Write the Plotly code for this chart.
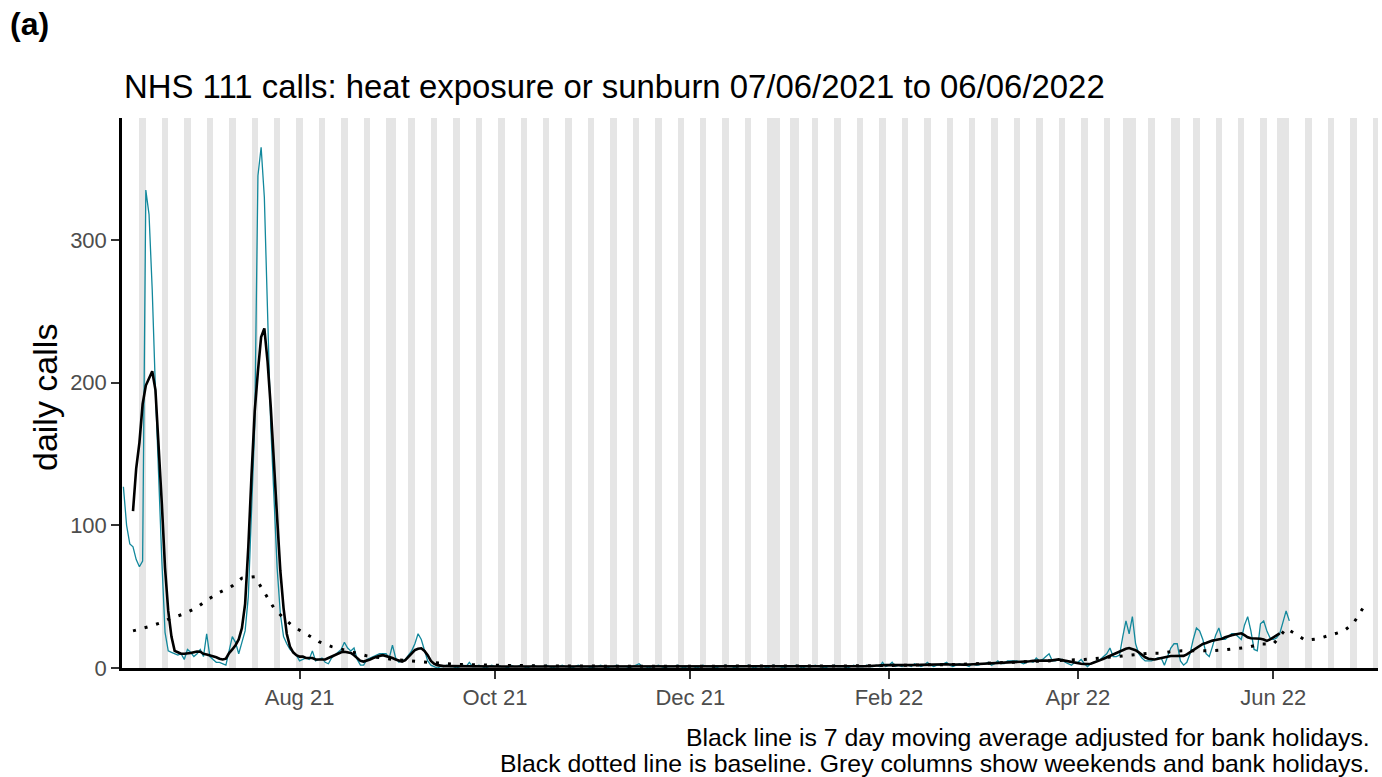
import pandas as pd
import plotly.graph_objects as go

# ---------------------------------------------------------------------------
# Daily NHS 111 calls for heat exposure or sunburn (one value per day)
# ---------------------------------------------------------------------------
CALLS_START = "2021-06-07"

calls_2021_06 = [127, 100, 87, 85, 76, 71, 75,
                 335, 318, 265, 195, 130, 75, 25,
                 12, 11, 10, 9, 10, 6, 13,
                 11, 8, 10]
calls_2021_07 = [13, 8, 24, 8,
                 6, 4, 4, 3, 2, 12, 22,
                 18, 10, 18, 26, 50, 110, 170,
                 345, 365, 330, 240, 170, 120, 70,
                 38, 22, 17, 13, 11, 9]
calls_2021_08 = [5,
                 6, 7, 6, 12, 5, 6, 7,
                 4, 3, 7, 9, 11, 13, 18,
                 14, 12, 14, 6, 2, 2, 6,
                 7, 8, 9, 10, 10, 10, 7,
                 16, 7]
calls_2021_09 = [4, 5, 6, 9, 12,
                 17, 24, 20, 13, 5, 2, 1,
                 0, 1,
                 1, 2, 1, 1, 0, 1, 2, 1, 4, 1, 1, 2, 1, 0, 1, 2]
calls_2021_10 = [1, 2, 1, 1, 0, 2, 1, 1, 2, 1, 0, 1, 2, 1, 1, 1,
                 2, 1, 0, 1, 1, 2, 1, 1, 0, 1, 2, 1, 1, 1, 0]
calls_2021_11 = [1, 1, 2, 1, 0, 1, 1, 2, 1, 1, 1, 0, 1, 2, 3,
                 1, 1, 0, 1, 1, 2, 1, 0, 1, 1, 1, 2, 1, 0, 1]
calls_2021_12 = [1, 1, 0, 1, 2, 1, 1, 1, 0, 1, 1, 2, 1, 1, 0, 1,
                 1, 1, 2, 1, 0, 1, 1, 1, 0, 1, 2, 1, 1, 0, 1]
calls_2022_01 = [1, 1, 2, 1, 0, 1, 1, 1, 2, 1, 1, 0, 1, 1, 2, 1,
                 1, 1, 0, 1, 2, 1, 1, 1, 2, 1, 1, 2, 1, 4, 1]
calls_2022_02 = [2, 4, 1, 2, 1, 2, 2, 1, 3, 2, 1, 2, 4, 2,
                 1, 2, 2, 3, 4, 2, 1, 2, 3, 2, 2, 1, 3, 2]
calls_2022_03 = [2, 3, 3, 4, 2, 3, 5, 3, 3, 5, 5, 5, 5, 4, 3, 4,
                 5, 4, 7, 5, 6, 8,
                 10, 5, 5, 6, 6, 4, 3, 2, 4]
calls_2022_04 = [4, 6, 3, 1, 3,
                 4, 5, 6, 8, 10, 14, 8,
                 8, 9, 22, 33, 24, 36, 17,
                 10, 7, 5, 5, 5, 6, 7,
                 7, 2, 8, 14]
calls_2022_05 = [17, 17, 5,
                 2, 4, 10, 20, 28, 26, 20,
                 10, 8, 15, 23, 28, 20, 20,
                 22, 24, 24, 22, 20, 30, 36,
                 26, 13, 12, 31, 33, 26, 21]
calls_2022_06 = [20, 21, 24, 32, 40, 33]

# ---------------------------------------------------------------------------
# 7 day moving average (adjusted for bank holidays), one value per day
# ---------------------------------------------------------------------------
AVG_START = "2021-06-10"

avg_2021_06 = [110, 140, 158, 185, 198, 203, 208, 195, 158, 115, 70,
               40, 22, 12, 11, 10, 10, 10, 10.5, 11, 11.5]
avg_2021_07 = [11.4, 10, 9.5, 9, 8.5, 7.5, 6.5, 6, 6.5, 10.5, 13, 16, 20,
               28, 45, 85, 135, 180, 208, 232, 238, 215, 183, 140, 105,
               68, 42, 24, 15, 11, 9]
avg_2021_08 = [8, 8, 7, 7, 7, 6, 6, 5.6, 6, 7, 8, 9, 10, 11, 11.4, 11,
               10.5, 9, 7, 5, 4.5, 5, 6, 7, 8, 8.5, 9, 8.5, 7.5, 7, 6]
avg_2021_09 = [5, 4.5, 5.5, 8, 10.5, 12.5, 13.5, 13.8, 12, 9, 5, 3, 2, 1.5,
               1.3, 1.3, 1.3, 1.4, 1.4, 1.5, 1.5, 1.6, 1.6, 1.5, 1.4, 1.3,
               1.2, 1.2, 1.1, 1.1]
avg_2021_10 = [1.1, 1.1, 1.0, 1.0, 1.0, 1.1, 1.1, 1.2, 1.2, 1.1, 1.0, 1.0,
               1.0, 1.1, 1.1, 1.1, 1.0, 1.0, 1.0, 1.0, 1.1, 1.1, 1.1, 1.0,
               1.0, 1.0, 1.0, 1.0, 0.9, 0.9, 0.9]
avg_2021_11 = [0.9, 0.9, 1.0, 1.0, 1.0, 1.0, 1.0, 1.0, 1.0, 1.1, 1.1, 1.1,
               1.2, 1.3, 1.3, 1.3, 1.2, 1.1, 1.0, 1.0, 1.0, 1.0, 1.0, 0.9,
               0.9, 0.9, 1.0, 1.0, 1.0, 1.0]
avg_2021_12 = [1.0, 1.0, 1.0, 1.0, 1.0, 1.0, 0.9, 0.9, 0.9, 1.0, 1.0, 1.0,
               1.0, 1.0, 1.0, 1.0, 1.0, 1.0, 1.0, 1.0, 0.9, 0.9, 0.9, 0.8,
               0.8, 0.8, 0.9, 0.9, 0.9, 1.0, 1.0]
avg_2022_01 = [1.0, 1.0, 1.0, 1.0, 1.1, 1.1, 1.1, 1.1, 1.0, 1.0, 1.0, 1.1,
               1.1, 1.1, 1.1, 1.1, 1.0, 1.0, 1.0, 1.1, 1.2, 1.2, 1.2, 1.3,
               1.3, 1.4, 1.4, 1.5, 1.7, 1.9, 2.0]
avg_2022_02 = [2.1, 2.1, 2.0, 2.0, 2.0, 2.0, 1.9, 1.9, 2.0, 2.1, 2.2, 2.3,
               2.4, 2.4, 2.3, 2.3, 2.4, 2.5, 2.6, 2.5, 2.4, 2.3, 2.3, 2.3,
               2.4, 2.5, 2.6, 2.7]
avg_2022_03 = [2.8, 2.9, 3.0, 3.1, 3.2, 3.3, 3.4, 3.5, 3.6, 3.7, 3.8, 3.9,
               4.0, 4.1, 4.3, 4.5, 4.7, 5.0, 5.2, 5.4, 5.5, 5.3,
               5.0, 5.5, 6.0, 6.0, 5.5, 5.0, 5.0, 4.5, 4.0]
avg_2022_04 = [3.5, 3.0, 2.8, 2.8, 3.0, 3.8, 4.5, 5.5, 6.5, 7.5, 9.0, 10.0,
               11.0, 12.0, 12.5, 13.5, 14.0, 13.5, 12.5, 11.0, 9.0, 7.5,
               6.5, 6.0, 6.0, 6.5, 7.0, 7.5, 8.0, 8.4]
avg_2022_05 = [8.4, 8.4, 8.4, 8.5, 9.5, 11.0, 12.6, 14.0, 15.5, 16.8, 17.5,
               18.5, 19.2, 19.6, 19.8, 20.5, 21.5, 22.4, 23.0, 23.5, 24.0,
               24.3, 23.0, 21.5, 20.8, 20.8, 20.8, 20.5, 20.0, 19.0, 20.0]
avg_2022_06 = [21.5, 23.0, 24.3]

# ---------------------------------------------------------------------------
# Baseline (expected calls)
# ---------------------------------------------------------------------------
baseline_dates = ["2021-06-10", "2021-06-15", "2021-06-19", "2021-06-22",
                  "2021-06-26", "2021-06-30", "2021-07-03", "2021-07-07",
                  "2021-07-11", "2021-07-14", "2021-07-18", "2021-07-20",
                  "2021-07-22", "2021-07-24", "2021-07-27", "2021-07-30",
                  "2021-08-03", "2021-08-07", "2021-08-11", "2021-08-16",
                  "2021-08-22", "2021-08-30", "2021-09-07", "2021-09-11",
                  "2021-09-15", "2021-09-19", "2021-09-30", "2021-10-15",
                  "2021-11-14", "2021-12-24", "2022-01-23", "2022-02-22",
                  "2022-03-14", "2022-04-03", "2022-04-13", "2022-04-23",
                  "2022-04-27", "2022-05-01", "2022-05-05", "2022-05-08",
                  "2022-05-12", "2022-05-16", "2022-05-20", "2022-05-24",
                  "2022-05-28", "2022-06-01", "2022-06-03", "2022-06-05",
                  "2022-06-08", "2022-06-11", "2022-06-15", "2022-06-19",
                  "2022-06-23", "2022-06-26", "2022-06-28", "2022-06-29"]
baseline_values = [26, 29, 32, 35, 38, 42.5, 47.5, 53, 57.5, 63, 64, 57,
                   49.5, 42, 35, 29, 24, 18.5, 15, 12, 8.5, 6, 4.4, 3.7,
                   2.8, 2.5, 2, 1.5, 1.2, 1.2, 1.5, 2.5, 4, 6, 8, 10.3,
                   10.3, 11.9, 12.1, 11.9, 12, 12.6, 13.8, 14.5, 16.8, 16.8,
                   22, 27.8, 23.8, 19.4, 20.5, 23.1, 25.9, 31.3, 38.8, 42]

# Weekends and bank holidays are shaded across the whole axis
SHADE_START, SHADE_END = "2021-06-07", "2022-07-03"
bank_holidays = ["2021-08-30", "2021-12-27", "2021-12-28", "2022-01-03",
                 "2022-04-15", "2022-04-18", "2022-05-02", "2022-06-02",
                 "2022-06-03"]

Y_TOP = 385.5

# ---------------------------------------------------------------------------
calls = (calls_2021_06 + calls_2021_07 + calls_2021_08 + calls_2021_09 +
         calls_2021_10 + calls_2021_11 + calls_2021_12 + calls_2022_01 +
         calls_2022_02 + calls_2022_03 + calls_2022_04 + calls_2022_05 +
         calls_2022_06)
avg = (avg_2021_06 + avg_2021_07 + avg_2021_08 + avg_2021_09 + avg_2021_10 +
       avg_2021_11 + avg_2021_12 + avg_2022_01 + avg_2022_02 + avg_2022_03 +
       avg_2022_04 + avg_2022_05 + avg_2022_06)

calls_dates = pd.date_range(CALLS_START, periods=len(calls), freq="D")
avg_dates = pd.date_range(AVG_START, periods=len(avg), freq="D")

all_days = pd.date_range(SHADE_START, SHADE_END, freq="D")
holidays = pd.to_datetime(bank_holidays)
shaded = all_days[(all_days.dayofweek >= 5) | all_days.isin(holidays)]
DAY_MS = 24 * 60 * 60 * 1000

fig = go.Figure()

fig.add_trace(go.Bar(
    x=shaded + pd.Timedelta(hours=12),
    y=[Y_TOP] * len(shaded),
    width=[DAY_MS] * len(shaded),
    marker=dict(color="#E5E5E5", line=dict(width=0)),
    hoverinfo="skip",
    showlegend=False,
))

fig.add_trace(go.Scatter(
    x=calls_dates, y=calls, mode="lines",
    line=dict(color="#12889C", width=1.3),
    showlegend=False,
))

fig.add_trace(go.Scatter(
    x=avg_dates, y=avg, mode="lines",
    line=dict(color="black", width=2.6),
    showlegend=False,
))

fig.add_trace(go.Scatter(
    x=pd.to_datetime(baseline_dates), y=baseline_values, mode="lines",
    line=dict(color="black", width=3, dash="3px,9px"),
    showlegend=False,
))

FONT = "Liberation Sans, Arial, sans-serif"
TICK_GREY = "#4D4D4D"

fig.update_layout(
    width=1382, height=777,
    margin=dict(l=122, r=4, t=118, b=109),
    paper_bgcolor="white", plot_bgcolor="white",
    font=dict(family=FONT, color="black"),
    bargap=0,
    xaxis=dict(
        range=["2021-06-06 13:30", "2022-07-03 16:30"],
        tickformat="%b %y", dtick="M2", tick0="2021-08-01",
        ticks="outside", ticklen=8, tickwidth=2, tickcolor="#333333",
        tickfont=dict(size=22, color=TICK_GREY, family=FONT),
        showline=True, linecolor="black", linewidth=2.5,
        showgrid=False, zeroline=False,
    ),
    yaxis=dict(
        range=[0, Y_TOP],
        tickvals=[0, 100, 200, 300],
        ticks="outside", ticklen=8, tickwidth=2, tickcolor="#333333",
        tickfont=dict(size=22, color=TICK_GREY, family=FONT),
        showline=True, linecolor="black", linewidth=2.5,
        showgrid=False, zeroline=False,
    ),
    annotations=[
        dict(text="<b>(a)</b>", xref="paper", yref="paper",
             x=-0.0908, y=1.171, xanchor="left", yanchor="middle",
             showarrow=False, font=dict(size=32, family=FONT)),
        dict(text="NHS 111 calls: heat exposure or sunburn 07/06/2021 to 06/06/2022",
             xref="paper", yref="paper", x=0, y=1.0564,
             xanchor="left", yanchor="middle", showarrow=False,
             font=dict(size=32.9, family=FONT)),
        dict(text="daily calls", xref="paper", yref="paper",
             x=-0.0613, y=0.4909, xanchor="center", yanchor="middle",
             textangle=-90, showarrow=False, font=dict(size=34, family=FONT)),
        dict(text="Black line is 7 day moving average adjusted for bank holidays.",
             xref="paper", yref="paper", x=0.9952, y=-0.1255,
             xanchor="right", yanchor="middle", showarrow=False,
             font=dict(size=24.8, family=FONT)),
        dict(text="Black dotted line is baseline. Grey columns show weekends and bank holidays.",
             xref="paper", yref="paper", x=0.9952, y=-0.1745,
             xanchor="right", yanchor="middle", showarrow=False,
             font=dict(size=24.8, family=FONT)),
    ],
)

fig.write_html("out.html")
